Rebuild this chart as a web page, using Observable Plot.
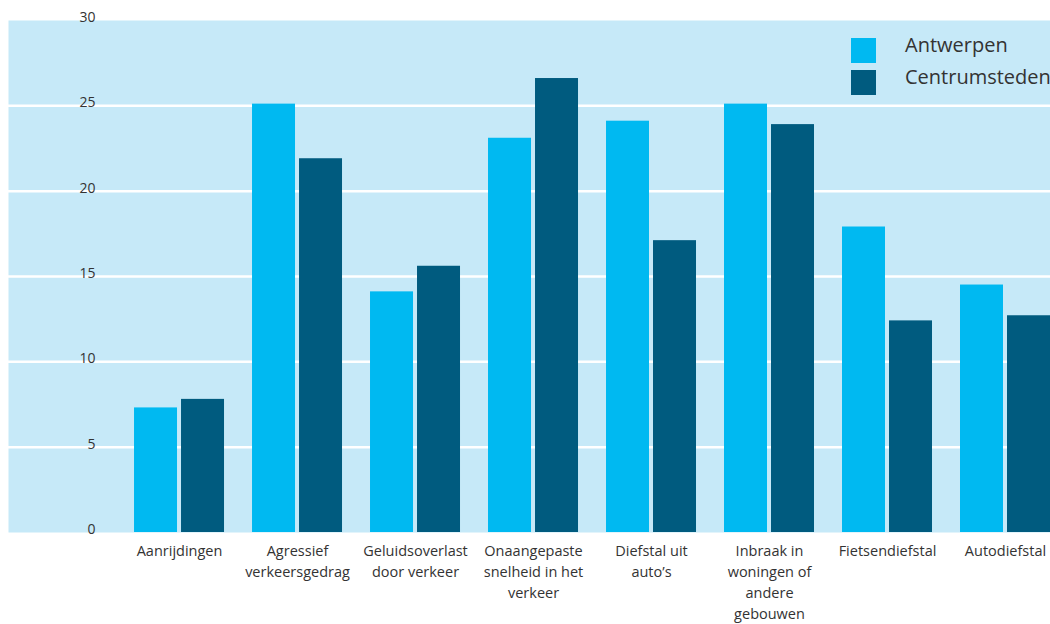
<!DOCTYPE html>
<html>
<head>
<meta charset="utf-8">
<script src="https://cdn.jsdelivr.net/npm/d3@7"></script>
<script src="https://cdn.jsdelivr.net/npm/@observablehq/plot@0.6"></script>
<style>
  html, body { margin: 0; padding: 0; background: #fff; }
  #wrap { position: relative; width: 1050px; height: 624px; font-family: "Open Sans", sans-serif; color: #333; }
  #bg, #bars { position: absolute; left: 0; top: 0; }
  #legend { position: absolute; left: 851px; top: 38px; }
  .row { position: relative; height: 32px; }
  .sw { position: absolute; left: 0; top: 0; width: 25px; height: 25px; }
  .lb { position: absolute; left: 54px; top: -3px; font-size: 20px; line-height: 20px; white-space: nowrap; color: #333; }
</style>
</head>
<body>
<div id="wrap"><div id="bg"></div><div id="bars"></div><div id="legend"></div></div>
<script>
const categories = ["Aanrijdingen", "Agressief verkeersgedrag", "Geluidsoverlast door verkeer", "Onaangepaste snelheid in het verkeer", "Diefstal uit auto’s", "Inbraak in woningen of andere gebouwen", "Fietsendiefstal", "Autodiefstal"];
const categoryLabels = ["Aanrijdingen", "Agressief\nverkeersgedrag", "Geluidsoverlast\ndoor verkeer", "Onaangepaste\nsnelheid in het\nverkeer", "Diefstal uit\nauto’s", "Inbraak in\nwoningen of\nandere\ngebouwen", "Fietsendiefstal", "Autodiefstal"];
const series = ["Antwerpen", "Centrumsteden"];
const antwerpen = [7.3, 25.1, 14.1, 23.1, 24.1, 25.1, 17.9, 14.5];
const centrumsteden = [7.8, 21.9, 15.6, 26.6, 17.1, 23.9, 12.4, 12.7];
const colors = ["#00b9f1", "#005b7f"];
const yTicks = [0, 5, 10, 15, 20, 25, 30];

const data = [];
categories.forEach((c, i) => {
  data.push({category: c, series: series[0], value: antwerpen[i]});
  data.push({category: c, series: series[1], value: centrumsteden[i]});
});
const labelOf = new Map(categories.map((c, i) => [c, categoryLabels[i]]));

const common = {
  width: 1050,
  height: 624,
  marginTop: 20,
  marginBottom: 92,
  marginLeft: 8,
  marginRight: 0,
  y: {domain: [0, 30], axis: null}
};
const font = "'Open Sans', sans-serif";

// Background layer: panel, gridlines, y tick labels
const bg = Plot.plot({
  ...common,
  style: {fontFamily: font, color: "#333", background: "#fff"},
  x: {axis: null},
  marks: [
    Plot.frame({fill: "#c6e9f8", stroke: null}),
    Plot.ruleY(yTicks.filter(d => d > 0 && d < 30), {y: d => d, stroke: "#fff", strokeWidth: 2.5}),
    Plot.text(yTicks, {y: d => d, text: d => String(d), frameAnchor: "left", dx: 87, textAnchor: "end", lineAnchor: "bottom", dy: 1.5, fontSize: 14, fill: "#333"})
  ]
});
document.getElementById("bg").appendChild(bg);

// Bars layer: grouped bars by facet
const bars = Plot.plot({
  ...common,
  style: {fontFamily: font, color: "#333", background: "transparent"},
  fx: {domain: categories, paddingInner: 28 / 118, paddingOuter: 0.534, align: 1, round: false, label: null, axis: null},
  x: {domain: series, paddingInner: 4 / 47, paddingOuter: 0, round: false, axis: null},
  color: {domain: series, range: colors},
  marks: [
    Plot.barY(data, {fx: "category", x: "series", y: "value", fill: "series"}),
    Plot.axisFx({anchor: "bottom", tickSize: 0, tickPadding: 9, tickFormat: d => labelOf.get(d), lineHeight: 1.44, fontSize: 14.5, label: null, fill: "#333"})
  ]
});
document.getElementById("bars").appendChild(bars);

const legend = document.getElementById("legend");
series.forEach((s, i) => {
  const row = document.createElement("div");
  row.className = "row";
  row.innerHTML = `<div class="sw" style="background:${colors[i]}"></div><div class="lb">${s}</div>`;
  legend.appendChild(row);
});
</script>
</body>
</html>
